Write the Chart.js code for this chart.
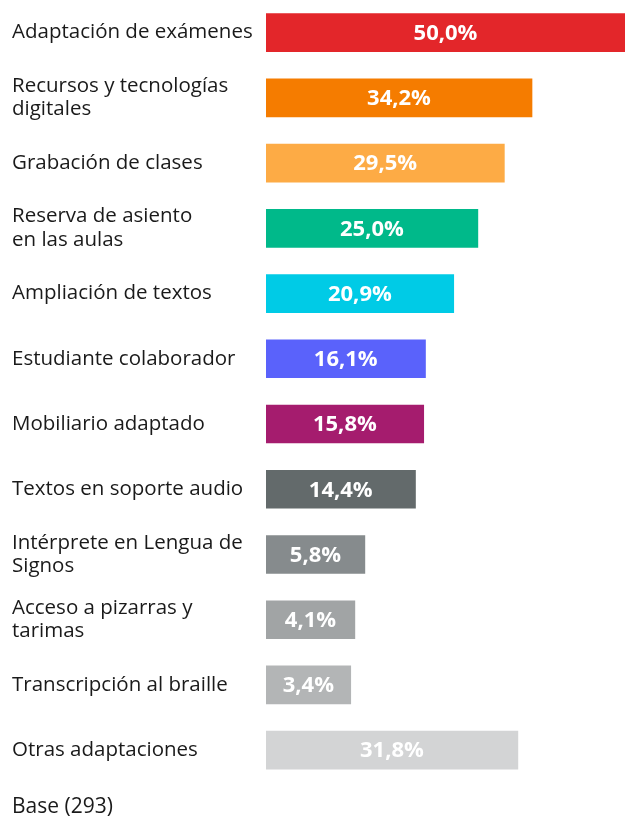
<!DOCTYPE html>
<html lang="es">

<head>
    <meta charset="UTF-8">
    <title>Adaptaciones</title>
    <script src="https://cdn.jsdelivr.net/npm/chart.js"></script>
    <style>
        html, body { margin: 0; padding: 0; background: #fff; }
        #wrap { width: 625px; height: 820px; position: relative; }
    </style>
</head>

<body>
    <div id="wrap">
        <canvas id="graficoAdaptaciones"></canvas>
    </div>

<script>
    // datos
    const categorias = [
        'Adaptación de exámenes',
        ['Recursos y tecnologías', 'digitales'],
        'Grabación de clases',
        ['Reserva de asiento', 'en las aulas'],
        'Ampliación de textos',
        'Estudiante colaborador',
        'Mobiliario adaptado',
        'Textos en soporte audio',
        ['Intérprete en Lengua de', 'Signos'],
        ['Acceso a pizarras y', 'tarimas'],
        'Transcripción al braille',
        'Otras adaptaciones'
    ];
    const porcentajes = [50.0, 34.2, 29.5, 25.0, 20.9, 16.1, 15.8, 14.4, 5.8, 4.1, 3.4, 31.8];
    const colores = ['#e3262a', '#f57c00', '#fdab45', '#00b98a', '#00cbe6', '#5a62fb',
        '#a51c6e', '#636a6b', '#868b8d', '#a1a4a5', '#b3b5b6', '#d3d4d5'];
    const textoBase = 'Base (293)';

    const fuente = "'Open Sans', 'DejaVu Sans', sans-serif";
    const inicioBarras = -11; // las barras arrancan algo a la izquierda del 0

    // escribe el porcentaje en el centro de cada barra
    const etiquetasBarras = {
        id: 'etiquetasBarras',
        afterDatasetsDraw(chart) {
            const ctx = chart.ctx;
            const meta = chart.getDatasetMeta(0);
            ctx.save();
            ctx.fillStyle = '#ffffff';
            ctx.font = "bold 22px " + fuente;
            ctx.textAlign = 'center';
            ctx.textBaseline = 'middle';
            meta.data.forEach(function (barra, i) {
                const texto = porcentajes[i].toFixed(1).replace('.', ',') + '%';
                ctx.fillText(texto, (barra.x + barra.base) / 2, barra.y + 1);
            });
            ctx.restore();
        }
    };

    new Chart(document.getElementById('graficoAdaptaciones'), {
        type: 'bar',
        data: {
            labels: categorias,
            datasets: [{
                data: porcentajes,
                backgroundColor: colores,
                base: inicioBarras,
                barThickness: 38,
                borderWidth: 0
            }]
        },
        plugins: [etiquetasBarras],
        options: {
            indexAxis: 'y',
            responsive: true,
            maintainAspectRatio: false,
            animation: false,
            layout: { padding: { left: 12, right: 0, top: 0, bottom: 0 } },
            plugins: {
                legend: { display: false },
                tooltip: { enabled: false },
                title: {
                    display: true,
                    text: textoBase,
                    position: 'bottom',
                    align: 'start',
                    color: '#1a1a1a',
                    font: { family: fuente, size: 21, weight: 'normal' },
                    padding: { top: 12, bottom: 0 }
                }
            },
            scales: {
                x: {
                    display: false,
                    min: inicioBarras,
                    max: 50
                },
                y: {
                    grid: { display: false },
                    border: { display: false },
                    ticks: {
                        crossAlign: 'far',
                        color: '#1a1a1a',
                        font: { family: fuente, size: 20.5, lineHeight: 1.15 }
                    },
                    afterFit: function (scale) {
                        scale.width = 254;
                        scale.paddingTop = 0;
                        scale.paddingBottom = 0;
                    }
                }
            }
        }
    });
</script>
</body>

</html>
